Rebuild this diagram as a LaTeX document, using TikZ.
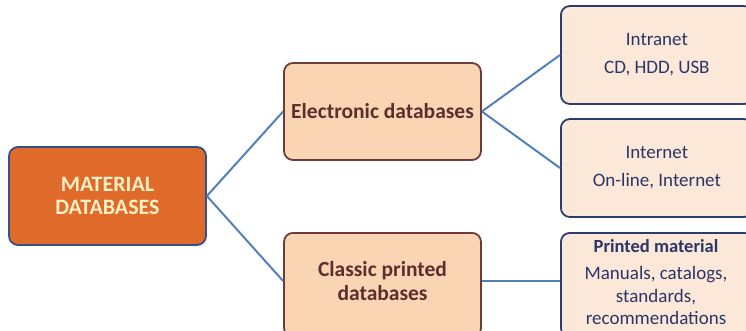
\documentclass[tikz,border=0pt]{standalone}
\usepackage{fontspec}
\setmainfont{Carlito}
\definecolor{rootfill}{HTML}{DF6A29}
\definecolor{rootline}{HTML}{34508E}
\definecolor{roottext}{HTML}{FCF0C4}
\definecolor{midfill}{HTML}{F9D5B4}
\definecolor{midline}{HTML}{6E3B3B}
\definecolor{midtext}{HTML}{5E2E2E}
\definecolor{leaffill}{HTML}{FCE8D9}
\definecolor{leafline}{HTML}{2C3D6B}
\definecolor{leaftext}{HTML}{2B3566}
\definecolor{wire}{HTML}{5280B8}
\begin{document}
\begin{tikzpicture}[x=1pt,y=-1pt,
  box/.style={rounded corners=9pt, line width=1.8pt, inner sep=0pt, align=center},
  rootbox/.style={box, draw=rootline, fill=rootfill, text=roottext,
    minimum width=197pt, minimum height=98pt, font=\fontsize{22}{23}\selectfont\bfseries},
  midbox/.style={box, draw=midline, fill=midfill, text=midtext,
    minimum width=197pt, minimum height=97pt, font=\fontsize{21.5}{24}\selectfont\bfseries},
  leafbox/.style={box, draw=leafline, fill=leaffill, text=leaftext,
    minimum width=192pt, minimum height=98pt, font=\fontsize{19}{28}\selectfont},
  wireline/.style={draw=wire, line width=2pt}]
\useasboundingbox (0,0) rectangle (746,330);
\clip (0,0) rectangle (746,330);
% branches
\node[rootbox] (root) at (107.5,196) {MATERIAL\\DATABASES};
\node[midbox] (elec) at (382.5,111.5) {Electronic databases};
\node[midbox, anchor=north, minimum height=104pt] (classic) at (382.5,232) {};
\node[text=midtext, align=center, font=\fontsize{21.5}{24}\selectfont\bfseries] (classictxt) at (382.5,281) {Classic printed\\databases};
% leaves (right edges run past the page)
\node[leafbox, anchor=west] (intra) at (560,55) {Intranet\\CD, HDD, USB};
\node[leafbox, anchor=west] (inter) at (560,168) {Internet\\On-line, Internet};
\node[leafbox, anchor=north west, minimum height=104pt] (printed) at (560,232) {};
\node[text=leaftext, align=center, font=\fontsize{19}{22.5}\selectfont] (printedtxt) at (656,282)
  {\fontsize{18.5}{22.5}\selectfont\textbf{Printed material}\\[5pt]Manuals, catalogs,\\standards,\\recommendations};
% connectors
\draw[wireline] (root.east) -- (elec.west);
\draw[wireline] (root.east) -- (classic.west |- classictxt);
\draw[wireline] (elec.east) -- (intra.west);
\draw[wireline] (elec.east) -- (inter.west);
\draw[wireline] (classic.east |- classictxt) -- (printed.west |- classictxt);
\end{tikzpicture}
\end{document}
